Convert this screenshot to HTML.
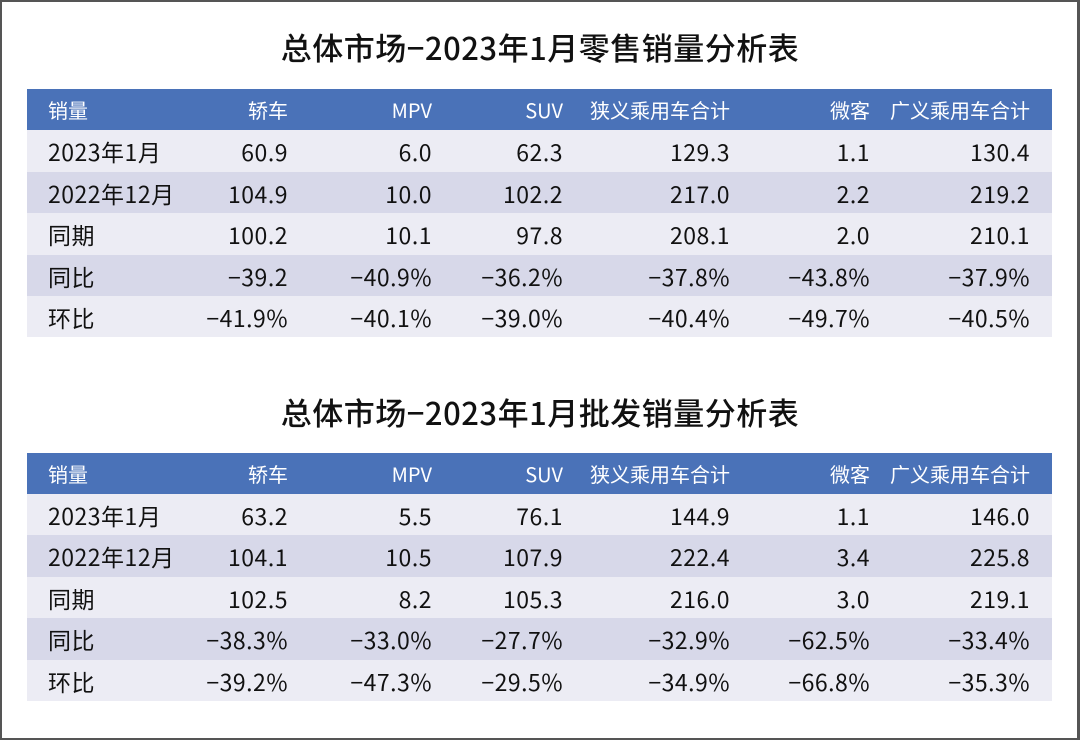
<!DOCTYPE html>
<html><head><meta charset="utf-8"><style>
*{margin:0;padding:0;box-sizing:border-box}
body{width:1080px;height:740px;background:#fff;position:relative;overflow:hidden;font-family:"Noto Sans CJK SC","Liberation Sans",sans-serif;color:#111}
.frame{position:absolute;left:0;top:0;width:1080px;height:740px;border:2px solid #555;border-right-width:3px}
.title{position:absolute;left:0;width:1080px;text-align:center;font-size:31px;font-weight:500;color:#111;line-height:40px;letter-spacing:0.5px}
.row{position:absolute;left:27px;width:1025px;height:42px;font-size:23px;line-height:42px;letter-spacing:0.5px}
.row span{position:absolute;top:0;white-space:nowrap}
.h{background:#4a72b8;color:#fff}
.h span{font-size:20px;letter-spacing:0}
.l{background:#ececf4}
.d{background:#d7d8e9}
.c0{left:21px}
.c1{right:764px}.c2{right:620px}.c3{right:489px}.c4{right:322px}.c5{right:182px}.c6{right:22px}
</style></head><body>
<div class="frame"></div>
<div class="title" style="top:27px">总体市场−2023年1月零售销量分析表</div>
<div class="row h" style="top:89px"><span class="c0">销量</span><span class="c1">轿车</span><span class="c2">MPV</span><span class="c3">SUV</span><span class="c4">狭义乘用车合计</span><span class="c5">微客</span><span class="c6">广义乘用车合计</span></div>
<div class="row l" style="top:130px"><span class="c0">2023年1月</span><span class="c1">60.9</span><span class="c2">6.0</span><span class="c3">62.3</span><span class="c4">129.3</span><span class="c5">1.1</span><span class="c6">130.4</span></div>
<div class="row d" style="top:172px"><span class="c0">2022年12月</span><span class="c1">104.9</span><span class="c2">10.0</span><span class="c3">102.2</span><span class="c4">217.0</span><span class="c5">2.2</span><span class="c6">219.2</span></div>
<div class="row l" style="top:213px"><span class="c0">同期</span><span class="c1">100.2</span><span class="c2">10.1</span><span class="c3">97.8</span><span class="c4">208.1</span><span class="c5">2.0</span><span class="c6">210.1</span></div>
<div class="row d" style="top:255px"><span class="c0">同比</span><span class="c1">−39.2</span><span class="c2">−40.9%</span><span class="c3">−36.2%</span><span class="c4">−37.8%</span><span class="c5">−43.8%</span><span class="c6">−37.9%</span></div>
<div class="row l" style="top:296px;height:41px"><span class="c0">环比</span><span class="c1">−41.9%</span><span class="c2">−40.1%</span><span class="c3">−39.0%</span><span class="c4">−40.4%</span><span class="c5">−49.7%</span><span class="c6">−40.5%</span></div>

<div class="title" style="top:392px">总体市场−2023年1月批发销量分析表</div>
<div class="row h" style="top:453px"><span class="c0">销量</span><span class="c1">轿车</span><span class="c2">MPV</span><span class="c3">SUV</span><span class="c4">狭义乘用车合计</span><span class="c5">微客</span><span class="c6">广义乘用车合计</span></div>
<div class="row l" style="top:494px"><span class="c0">2023年1月</span><span class="c1">63.2</span><span class="c2">5.5</span><span class="c3">76.1</span><span class="c4">144.9</span><span class="c5">1.1</span><span class="c6">146.0</span></div>
<div class="row d" style="top:535px"><span class="c0">2022年12月</span><span class="c1">104.1</span><span class="c2">10.5</span><span class="c3">107.9</span><span class="c4">222.4</span><span class="c5">3.4</span><span class="c6">225.8</span></div>
<div class="row l" style="top:577px"><span class="c0">同期</span><span class="c1">102.5</span><span class="c2">8.2</span><span class="c3">105.3</span><span class="c4">216.0</span><span class="c5">3.0</span><span class="c6">219.1</span></div>
<div class="row d" style="top:618px"><span class="c0">同比</span><span class="c1">−38.3%</span><span class="c2">−33.0%</span><span class="c3">−27.7%</span><span class="c4">−32.9%</span><span class="c5">−62.5%</span><span class="c6">−33.4%</span></div>
<div class="row l" style="top:660px;height:41px"><span class="c0">环比</span><span class="c1">−39.2%</span><span class="c2">−47.3%</span><span class="c3">−29.5%</span><span class="c4">−34.9%</span><span class="c5">−66.8%</span><span class="c6">−35.3%</span></div>
</body></html>
